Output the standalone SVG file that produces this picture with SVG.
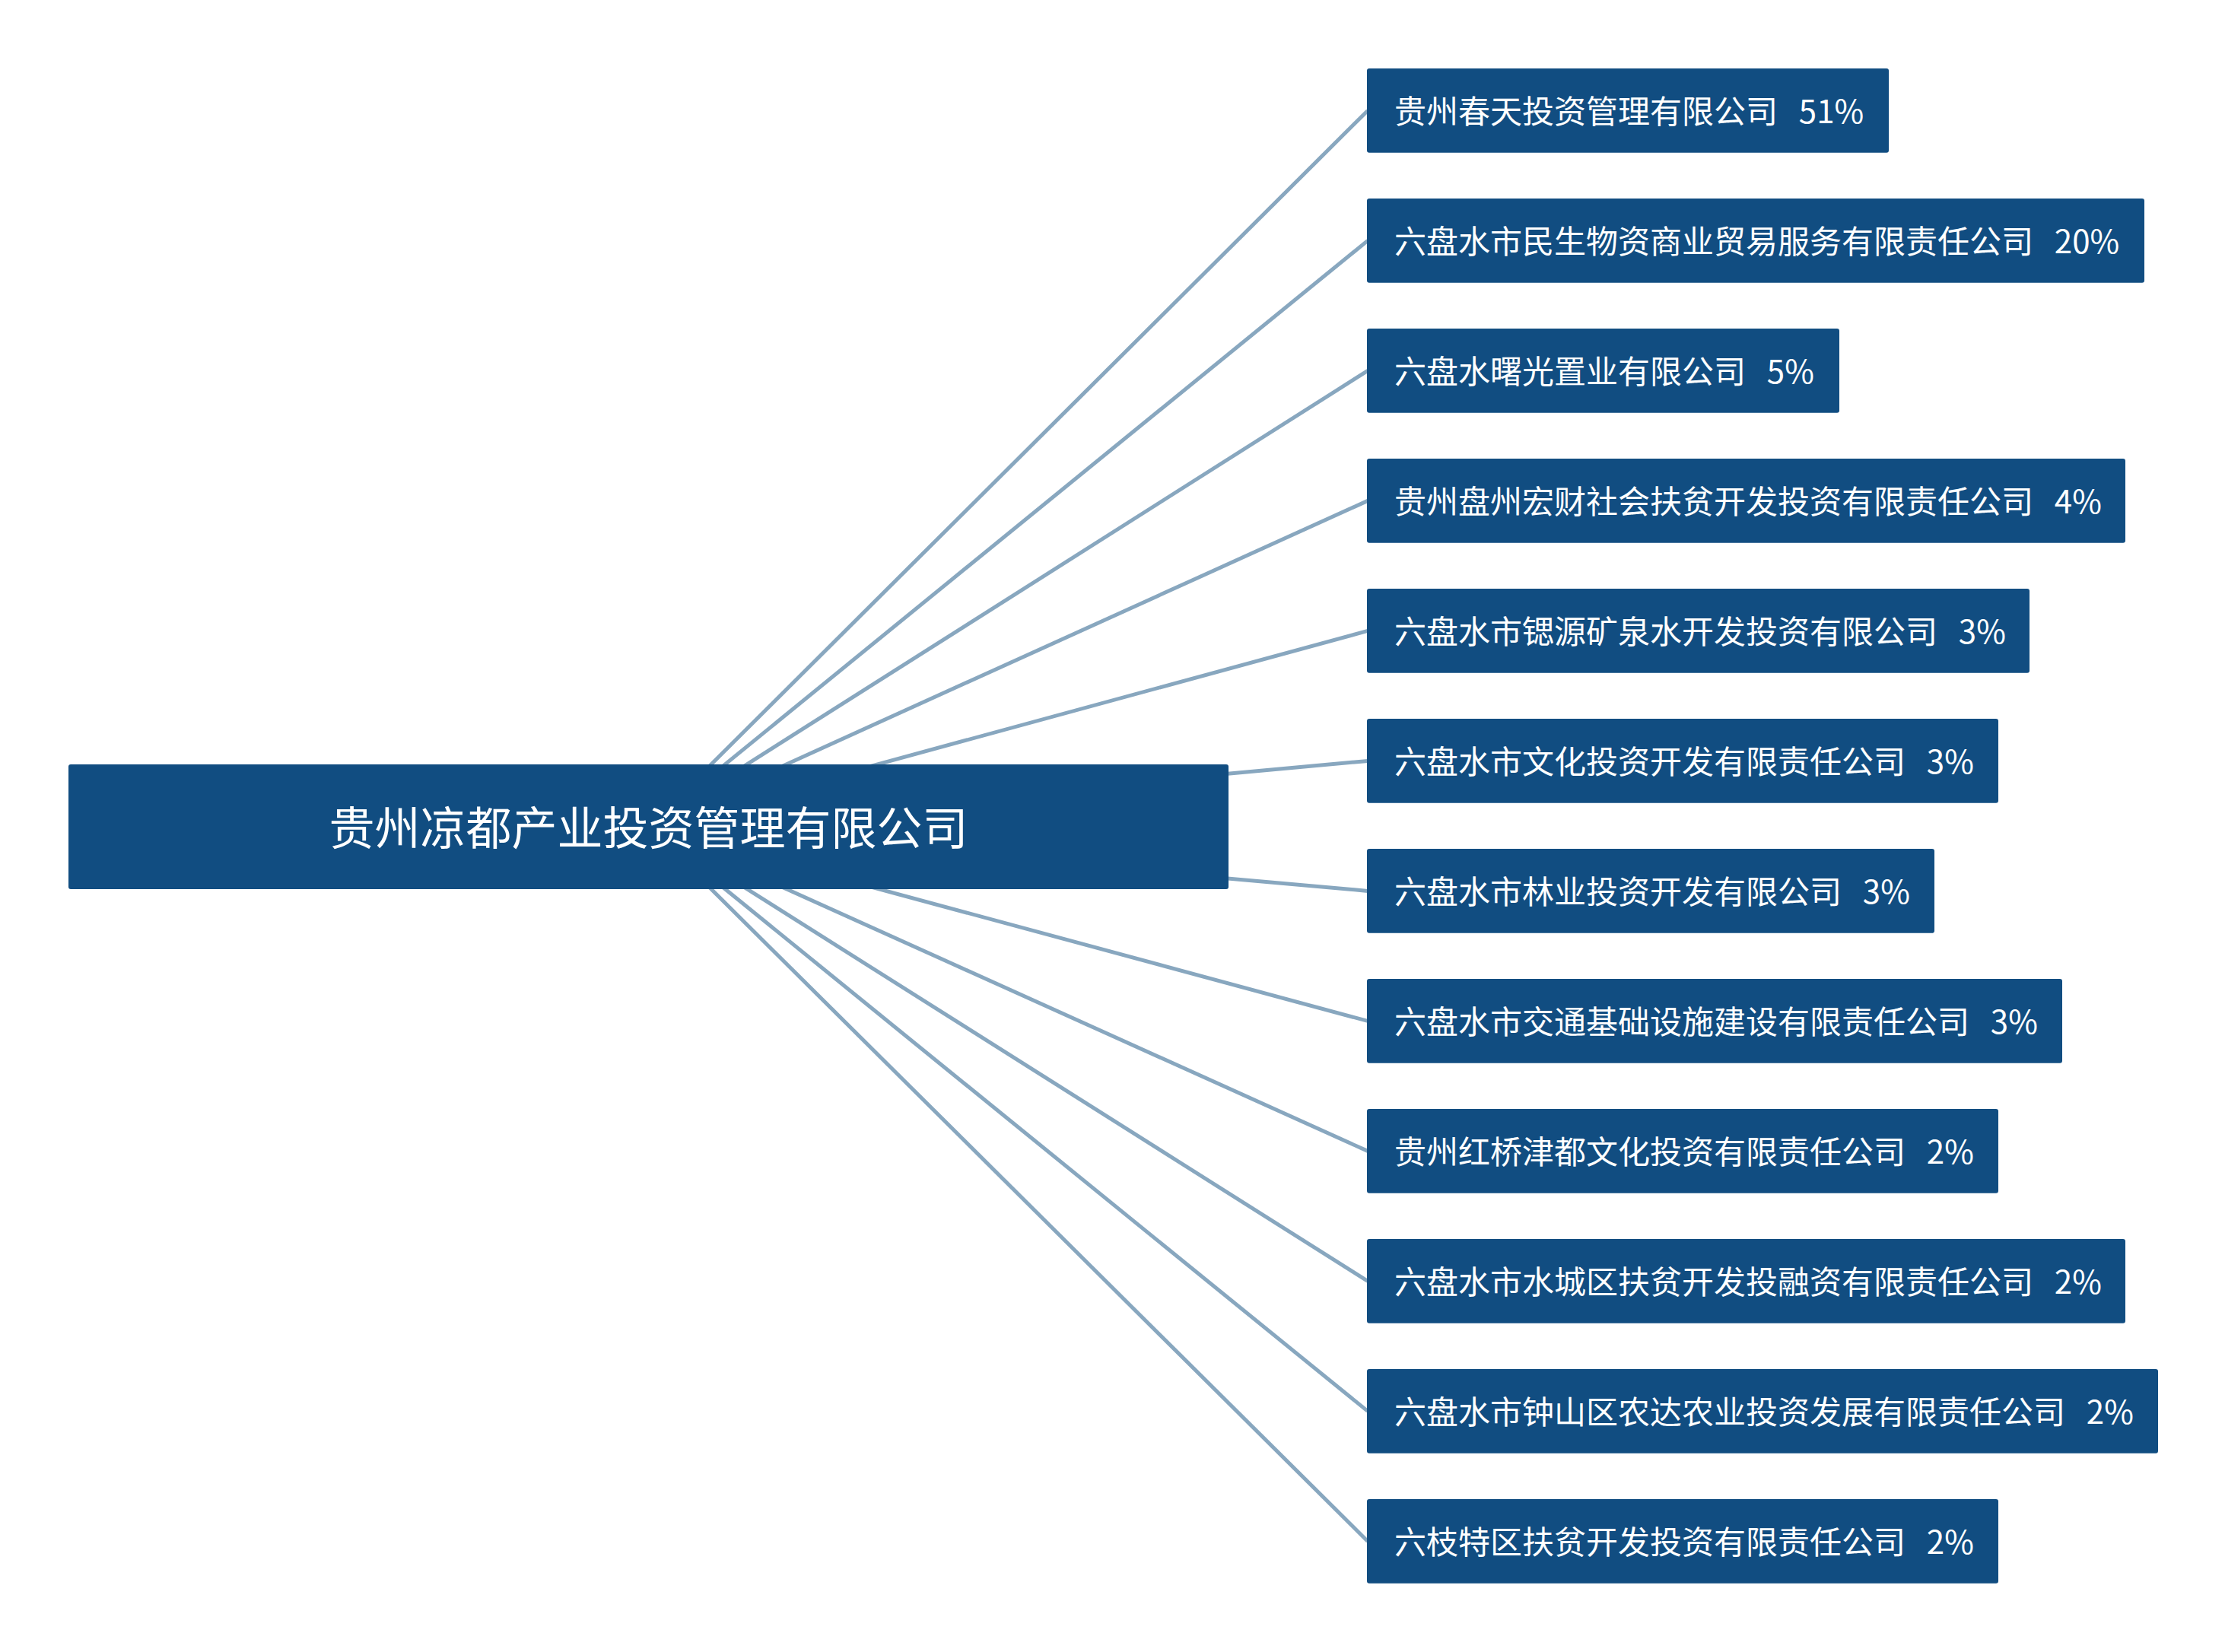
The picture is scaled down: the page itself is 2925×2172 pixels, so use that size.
<svg xmlns="http://www.w3.org/2000/svg" width="2925" height="2172" viewBox="0 0 2925 2172">
<style>
.box{fill:#114d81}
.lbl{fill:#ffffff;font-family:"Microsoft YaHei","Noto Sans CJK SC","Noto Sans",sans-serif;font-size:42px;dominant-baseline:central;white-space:pre}
.main{fill:#ffffff;font-family:"Microsoft YaHei","Noto Sans CJK SC","Noto Sans",sans-serif;font-size:60px;dominant-baseline:central;text-anchor:middle}
.edge{stroke:#88a7bf;stroke-width:5;fill:none}
</style>
<rect width="2925" height="2172" fill="#ffffff"/>
<g id="connectors">
<line class="edge" x1="852.5" y1="1087" x2="1798" y2="145.4"/>
<line class="edge" x1="852.5" y1="1087" x2="1798" y2="316.4"/>
<line class="edge" x1="852.5" y1="1087" x2="1798" y2="487.4"/>
<line class="edge" x1="852.5" y1="1087" x2="1798" y2="658.4"/>
<line class="edge" x1="852.5" y1="1087" x2="1798" y2="829.4"/>
<line class="edge" x1="852.5" y1="1087" x2="1798" y2="1000.4"/>
<line class="edge" x1="852.5" y1="1087" x2="1798" y2="1171.4"/>
<line class="edge" x1="852.5" y1="1087" x2="1798" y2="1342.4"/>
<line class="edge" x1="852.5" y1="1087" x2="1798" y2="1513.4"/>
<line class="edge" x1="852.5" y1="1087" x2="1798" y2="1684.4"/>
<line class="edge" x1="852.5" y1="1087" x2="1798" y2="1855.4"/>
<line class="edge" x1="852.5" y1="1087" x2="1798" y2="2026.4"/>
</g>
<g id="root">
<rect class="box" x="90" y="1005" width="1525" height="164" rx="3"/>
<text class="main" x="852.5" y="1084">贵州凉都产业投资管理有限公司</text>
</g>
<g id="n1"><rect class="box" x="1797" y="90" width="686" height="110.8" rx="3"/><text class="lbl" x="1833" y="143">贵州春天投资管理有限公司  <tspan dx="9">51%</tspan></text></g>
<g id="n2"><rect class="box" x="1797" y="261" width="1022" height="110.8" rx="3"/><text class="lbl" x="1833" y="314">六盘水市民生物资商业贸易服务有限责任公司  <tspan dx="9">20%</tspan></text></g>
<g id="n3"><rect class="box" x="1797" y="432" width="621" height="110.8" rx="3"/><text class="lbl" x="1833" y="485">六盘水曙光置业有限公司  <tspan dx="9">5%</tspan></text></g>
<g id="n4"><rect class="box" x="1797" y="603" width="997" height="110.8" rx="3"/><text class="lbl" x="1833" y="656">贵州盘州宏财社会扶贫开发投资有限责任公司  <tspan dx="9">4%</tspan></text></g>
<g id="n5"><rect class="box" x="1797" y="774" width="871" height="110.8" rx="3"/><text class="lbl" x="1833" y="827">六盘水市锶源矿泉水开发投资有限公司  <tspan dx="9">3%</tspan></text></g>
<g id="n6"><rect class="box" x="1797" y="945" width="830" height="110.8" rx="3"/><text class="lbl" x="1833" y="998">六盘水市文化投资开发有限责任公司  <tspan dx="9">3%</tspan></text></g>
<g id="n7"><rect class="box" x="1797" y="1116" width="746" height="110.8" rx="3"/><text class="lbl" x="1833" y="1169">六盘水市林业投资开发有限公司  <tspan dx="9">3%</tspan></text></g>
<g id="n8"><rect class="box" x="1797" y="1287" width="914" height="110.8" rx="3"/><text class="lbl" x="1833" y="1340">六盘水市交通基础设施建设有限责任公司  <tspan dx="9">3%</tspan></text></g>
<g id="n9"><rect class="box" x="1797" y="1458" width="830" height="110.8" rx="3"/><text class="lbl" x="1833" y="1511">贵州红桥津都文化投资有限责任公司  <tspan dx="9">2%</tspan></text></g>
<g id="n10"><rect class="box" x="1797" y="1629" width="997" height="110.8" rx="3"/><text class="lbl" x="1833" y="1682">六盘水市水城区扶贫开发投融资有限责任公司  <tspan dx="9">2%</tspan></text></g>
<g id="n11"><rect class="box" x="1797" y="1800" width="1040" height="110.8" rx="3"/><text class="lbl" x="1833" y="1853">六盘水市钟山区农达农业投资发展有限责任公司  <tspan dx="9">2%</tspan></text></g>
<g id="n12"><rect class="box" x="1797" y="1971" width="830" height="110.8" rx="3"/><text class="lbl" x="1833" y="2024">六枝特区扶贫开发投资有限责任公司  <tspan dx="9">2%</tspan></text></g>
</svg>
